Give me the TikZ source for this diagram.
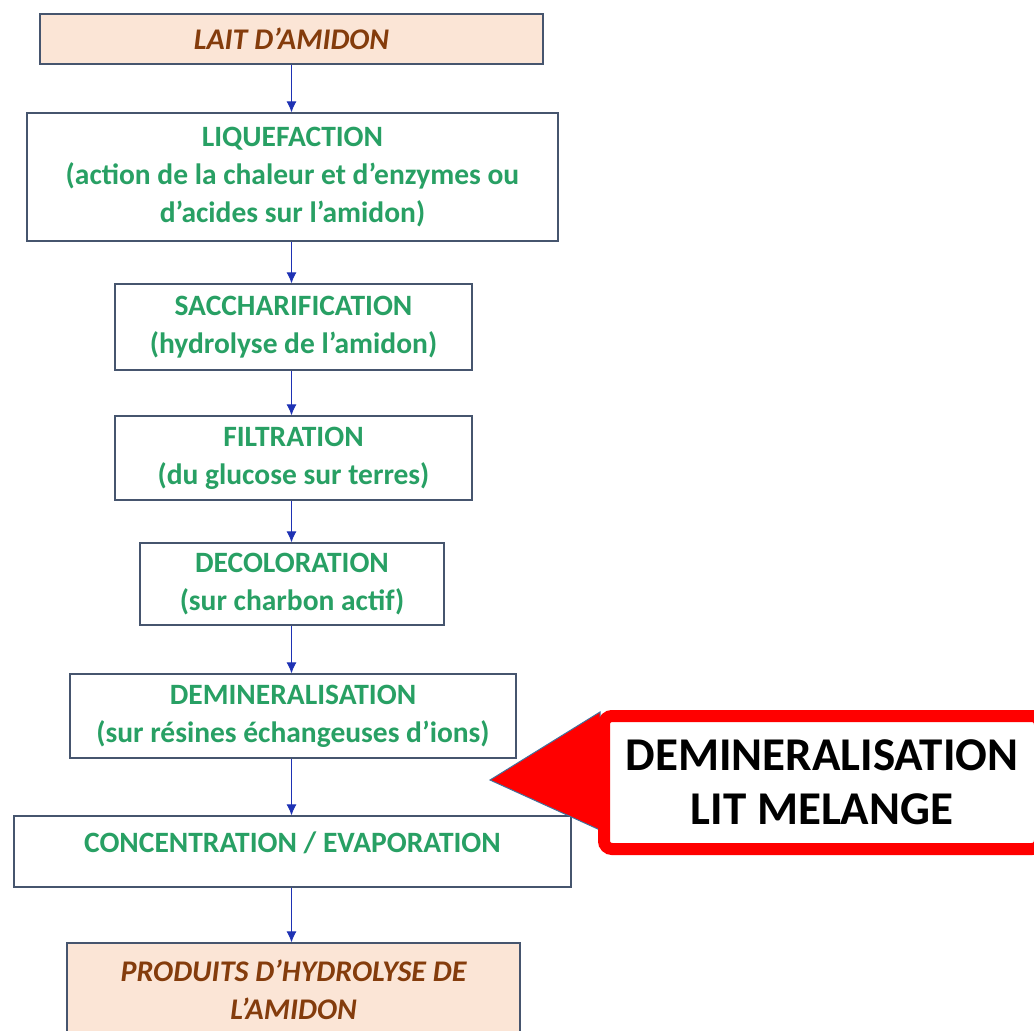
\documentclass[tikz,border=0pt]{standalone}
\usepackage{fontspec}
\setmainfont{Carlito}
\usetikzlibrary{arrows.meta,positioning}
\definecolor{mygreen}{RGB}{40,160,100}
\definecolor{mybrown}{RGB}{132,60,12}
\definecolor{mypeach}{RGB}{251,229,214}
\definecolor{myline}{RGB}{70,85,110}
\definecolor{myblue}{RGB}{30,50,180}
\definecolor{myred}{RGB}{255,0,0}
\definecolor{myedge}{RGB}{65,113,156}

\begin{document}
\begin{tikzpicture}[
  x=1pt, y=-1pt,
  mybox/.style 2 args={
    draw=myline,
    line width=1.2pt,
    fill=white,
    inner sep=0pt,
    minimum width=#1,
    minimum height=#2,
    align=center,
    text=mygreen,
    font=\fontsize{29.5}{38}\selectfont\bfseries
  },
  myend/.style 2 args={
    mybox={#1}{#2},
    fill=mypeach,
    text=mybrown,
    font=\fontsize{30}{38}\selectfont\bfseries\itshape
  },
  myarrow/.style={
    draw=myblue,
    line width=1pt,
    -{Latex[length=11pt,width=10pt]}
  },
  mycallout/.style={
    draw=myred,
    line width=12pt,
    rounded corners=8pt,
    fill=white,
    inner sep=0pt,
    minimum width=436pt,
    minimum height=133pt,
    align=center,
    font=\fontsize{47}{54}\selectfont\bfseries
  }
]
\useasboundingbox (0,0) rectangle (1034,1031);

\node[myend={503pt}{50pt}] (lait) at (291.5,39) {LAIT D’AMIDON};
\node[mybox={531pt}{128pt}] (liquef) at (292.5,177)
  {LIQUEFACTION\\(action de la chaleur et d’enzymes ou\\d’acides sur l’amidon)};
\node[mybox={357pt}{86pt}] (saccha) at (293.5,327)
  {SACCHARIFICATION\\(hydrolyse de l’amidon)};
\node[mybox={357pt}{84pt}] (filtr) at (293.5,458)
  {FILTRATION\\(du glucose sur terres)};
\node[mybox={304pt}{82pt}] (decol) at (292,584)
  {DECOLORATION\\(sur charbon actif)};
\node[mybox={446pt}{84pt}] (demin) at (293,716)
  {DEMINERALISATION\\(sur résines échangeuses d’ions)};
\node[mybox={557pt}{71pt}, text depth=18pt] (concen) at (292.5,851.5)
  {CONCENTRATION / EVAPORATION};
\node[myend={453pt}{94pt}] (produits) at (293.5,990)
  {PRODUITS D’HYDROLYSE DE\\L’AMIDON};

\foreach \from/\to in {lait/liquef,liquef/saccha,saccha/filtr,filtr/decol,decol/demin,demin/concen,concen/produits}
  \draw[myarrow] (lait.south |- \from.south) -- (lait.south |- \to.north);

% pointer of the callout
\coordinate (tip) at (490,780);
\filldraw[fill=myred, draw=myedge, line width=1pt] (tip) -- (600,712) -- (600,830) -- cycle;
\node[mycallout] (lit) at (822,782.5) {DEMINERALISATION\\LIT MELANGE};

\end{tikzpicture}
\end{document}
